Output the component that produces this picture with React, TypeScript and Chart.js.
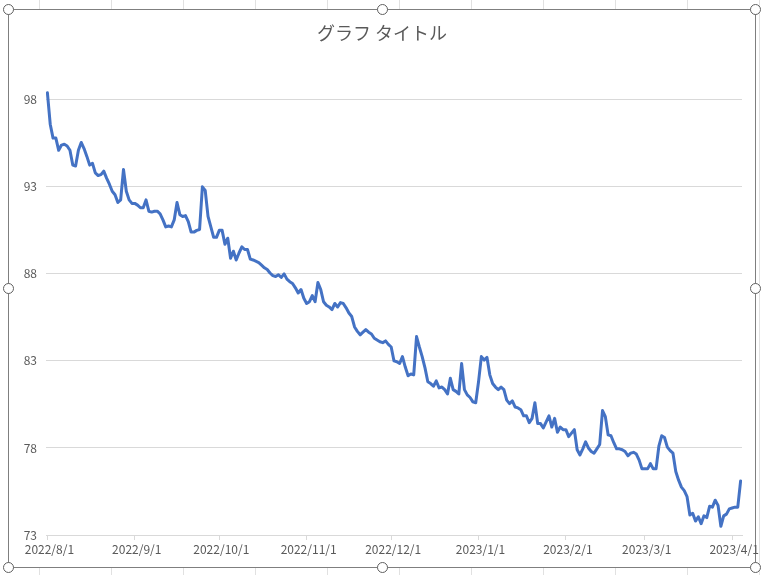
import React, { useEffect, useRef } from "react";
import { Chart, registerables } from "chart.js";

Chart.register(...registerables);

const chartTitle = "グラフ タイトル";
const baseDate = "2022-08-01";

const dayOffsets: number[] = [
  0, 1, 2, 3, 4, 5, 6, 7, 8, 9, 10, 11, 12, 13, 14, 15, 16, 17, 18, 19,
  20, 21, 22, 23, 24, 25, 26, 27, 28, 29, 30, 31, 32, 33, 34, 35, 36, 37, 38, 39,
  40, 41, 42, 43, 44, 45, 46, 47, 48, 49, 50, 51, 52, 53, 54, 55, 56, 57, 58, 59,
  60, 61, 62, 63, 64, 65, 66, 67, 68, 69, 70, 71, 72, 73, 75, 76, 77, 78, 79,
  80, 81, 82, 83, 84, 85, 86, 87, 88, 89, 90, 91, 92, 93, 94, 95, 96, 97, 98, 99,
  100, 101, 102, 103, 104, 105, 106, 107, 108, 109, 110, 111, 112, 113, 114, 115, 116, 117, 118, 119,
  120, 121, 122, 123, 124, 125, 126, 127, 128, 129, 130, 131, 132, 133, 134, 135, 136, 137, 138, 139,
  140, 141, 142, 143, 144, 145, 146, 147, 148, 149, 150, 151, 152, 153, 154, 155, 156, 157, 158, 159,
  160, 161, 162, 163, 164, 165, 166, 167, 168, 169, 170, 171, 172, 173, 174, 175, 176, 177, 178, 179,
  180, 181, 182, 183, 184, 185, 186, 187, 188, 189, 190, 191, 192, 193, 194, 195, 196, 197, 198, 199,
  200, 201, 202, 203, 204, 205, 206, 207, 208, 209, 210, 211, 212, 213, 214, 215, 216, 217, 218, 219,
  220, 221, 222, 223, 224, 225, 226, 227, 228, 229, 230, 231, 232, 233, 234, 235, 236, 237, 238, 239,
  240, 241, 242, 243, 244, 245, 246,
];

const seriesValues: number[] = [
  98.4, 96.6, 95.8, 95.8, 95.1, 95.4, 95.45, 95.35, 95.1, 94.25, 94.2, 95.1, 95.55, 95.2, 94.75, 94.25, 94.35, 93.8, 93.65, 93.7,
  93.9, 93.5, 93.15, 92.75, 92.55, 92.1, 92.25, 94.0, 92.75, 92.25, 92.05, 92.05, 91.95, 91.8, 91.8, 92.25, 91.6, 91.55, 91.6, 91.6,
  91.45, 91.1, 90.7, 90.75, 90.7, 91.1, 92.1, 91.4, 91.3, 91.35, 91.0, 90.4, 90.4, 90.5, 90.55, 93.0, 92.8, 91.3, 90.7, 90.1,
  90.1, 90.5, 90.5, 89.7, 90.05, 88.9, 89.3, 88.8, 89.2, 89.55, 89.4, 89.4, 88.85, 88.8, 88.65, 88.5, 88.35, 88.25, 88.05,
  87.9, 87.85, 87.95, 87.8, 88.0, 87.7, 87.55, 87.45, 87.2, 86.9, 87.1, 86.6, 86.3, 86.4, 86.75, 86.4, 87.5, 87.1, 86.4, 86.2,
  86.1, 85.95, 86.3, 86.1, 86.35, 86.3, 86.05, 85.75, 85.55, 84.95, 84.7, 84.5, 84.65, 84.8, 84.65, 84.55, 84.3, 84.2, 84.1, 84.05,
  84.15, 83.95, 83.8, 83.0, 82.95, 82.85, 83.25, 82.65, 82.15, 82.25, 82.2, 84.4, 83.8, 83.25, 82.6, 81.8, 81.7, 81.55, 81.85, 81.45,
  81.5, 81.35, 81.1, 82.0, 81.35, 81.25, 81.1, 82.85, 81.35, 81.05, 80.9, 80.65, 80.6, 81.8, 83.25, 83.05, 83.2, 82.2, 81.7, 81.5,
  81.35, 81.5, 81.35, 80.75, 80.55, 80.7, 80.35, 80.3, 80.2, 79.85, 79.85, 79.45, 79.7, 80.6, 79.4, 79.4, 79.15, 79.5, 79.85, 79.2,
  79.7, 78.9, 79.2, 79.05, 79.05, 78.65, 78.85, 79.05, 77.9, 77.6, 77.95, 78.35, 78.0, 77.8, 77.7, 77.95, 78.2, 80.15, 79.8, 78.75,
  78.7, 78.3, 77.95, 77.95, 77.9, 77.8, 77.55, 77.7, 77.75, 77.65, 77.3, 76.8, 76.8, 76.8, 77.1, 76.8, 76.8, 78.1, 78.7, 78.6,
  78.05, 77.85, 77.7, 76.65, 76.15, 75.75, 75.55, 75.2, 74.15, 74.25, 73.8, 74.05, 73.65, 74.1, 74.0, 74.65, 74.6, 75.0, 74.7, 73.5,
  74.1, 74.2, 74.5, 74.55, 74.6, 74.6, 76.1,
];

const xTickLabels: string[] = [
  "2022/8/1", "2022/9/1", "2022/10/1", "2022/11/1", "2022/12/1",
  "2023/1/1", "2023/2/1", "2023/3/1", "2023/4/1",
];

const yTickValues: number[] = [73, 78, 83, 88, 93, 98];

const DAY_MS = 86400000;
function dayIndex(label: string): number {
  const parts = label.split(/[-/]/).map(Number);
  const base = baseDate.split("-").map(Number);
  return Math.round(
    (Date.UTC(parts[0], parts[1] - 1, parts[2]) - Date.UTC(base[0], base[1] - 1, base[2])) / DAY_MS
  );
}

const FONT = "'Noto Sans CJK JP', 'Noto Sans', sans-serif";

export default function App() {
  const canvasRef = useRef<HTMLCanvasElement | null>(null);

  useEffect(() => {
    if (!canvasRef.current) return;
    const xTickDays = xTickLabels.map(dayIndex);
    const lastDay = dayOffsets[dayOffsets.length - 1];
    const points = dayOffsets.map((d, i) => ({ x: d, y: seriesValues[i] }));

    const chart = new Chart(canvasRef.current, {
      type: "line",
      data: {
        datasets: [
          {
            data: points,
            borderColor: "#4472C4",
            borderWidth: 3,
            pointRadius: 0,
            tension: 0,
            borderJoinStyle: "round",
            borderCapStyle: "round",
            fill: false,
          },
        ],
      },
      options: {
        animation: false,
        responsive: true,
        maintainAspectRatio: false,
        layout: { padding: { top: 55, right: 24, left: 0, bottom: 0 } },
        plugins: {
          legend: { display: false },
          title: { display: false },
          tooltip: { enabled: false },
        },
        scales: {
          x: {
            type: "linear",
            min: -0.5,
            max: lastDay + 0.5,
            grid: {
              display: true,
              drawOnChartArea: false,
              drawTicks: true,
              tickLength: 5,
              color: "#d9d9d9",
            },
            border: { display: true, color: "#d9d9d9" },
            ticks: {
              autoSkip: false,
              maxRotation: 0,
              minRotation: 0,
              padding: 2,
              labelOffset: 2,
              color: "#595959",
              font: { family: FONT, size: 12 },
              callback: (_v: any, i: number) => xTickLabels[i],
            },
            afterBuildTicks: (scale: any) => {
              scale.ticks = xTickDays.map((v) => ({ value: v }));
            },
            afterFit: (scale: any) => {
              scale.height = 32;
              scale.paddingLeft = 0;
              scale.paddingRight = 0;
            },
          },
          y: {
            type: "linear",
            min: 73,
            max: 100,
            grid: { color: "#d9d9d9", drawTicks: false, lineWidth: 1 },
            border: { display: false },
            ticks: {
              padding: 9,
              color: "#595959",
              font: { family: FONT, size: 12 },
            },
            afterBuildTicks: (scale: any) => {
              scale.ticks = yTickValues.map((v) => ({ value: v }));
            },
            afterFit: (scale: any) => {
              scale.width = 37;
              scale.paddingTop = 0;
              scale.paddingBottom = 0;
            },
          },
        },
      },
    });
    return () => chart.destroy();
  }, []);

  const handles: [number, number][] = [
    [8, 9], [382, 9], [755, 9],
    [8, 288], [755, 288],
    [8, 567], [382, 567], [755, 567],
  ];
  const colLines = [39, 111, 183, 255, 327, 399, 471, 543, 615, 687, 759];

  return (
    <div style={{ position: "absolute", left: 0, top: 0, width: 766, height: 575, overflow: "hidden", background: "#fff" }}>
      {colLines.map((x) => (
        <div key={"c" + x} style={{ position: "absolute", left: x, top: 0, width: 1, height: 575, background: "#e1e1e1" }} />
      ))}
      <div
        style={{
          position: "absolute",
          left: 8,
          top: 9,
          width: 748,
          height: 559,
          boxSizing: "border-box",
          border: "1px solid #7f7f7f",
          background: "#fff",
        }}
      />
      <div style={{ position: "absolute", left: 9, top: 10, width: 757, height: 557 }}>
        <canvas ref={canvasRef} />
      </div>
      <div
        style={{
          position: "absolute",
          left: 8,
          top: 22,
          width: 748,
          textAlign: "center",
          fontFamily: FONT,
          fontSize: 18,
          lineHeight: "20px",
          color: "#595959",
          whiteSpace: "pre",
        }}
      >
        {chartTitle}
      </div>
      {handles.map(([x, y], i) => (
        <div
          key={"h" + i}
          style={{
            position: "absolute",
            left: x - 5.5,
            top: y - 5.5,
            width: 11,
            height: 11,
            boxSizing: "border-box",
            borderRadius: "50%",
            border: "1.5px solid #5f5f5f",
            background: "#fff",
          }}
        />
      ))}
    </div>
  );
}
